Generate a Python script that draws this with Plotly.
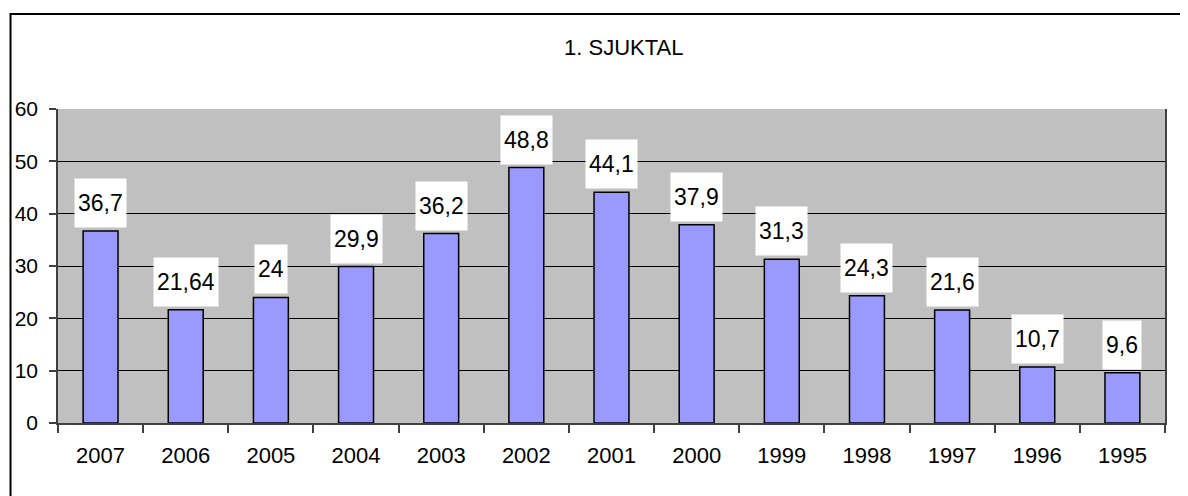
import plotly.graph_objects as go

years = ["2007", "2006", "2005", "2004", "2003", "2002", "2001", "2000",
         "1999", "1998", "1997", "1996", "1995"]
values = [36.7, 21.64, 24, 29.9, 36.2, 48.8, 44.1, 37.9, 31.3, 24.3, 21.6, 10.7, 9.6]
labels = ["36,7", "21,64", "24", "29,9", "36,2", "48,8", "44,1", "37,9",
          "31,3", "24,3", "21,6", "10,7", "9,6"]
title = "1. SJUKTAL"

FONT = "Liberation Sans, Arial, sans-serif"

fig = go.Figure()
fig.add_trace(go.Bar(
    x=years, y=values, width=0.41,
    marker=dict(color="#9999FF", line=dict(color="#000000", width=1.5)),
    hoverinfo="x+y",
))

for i, (v, lab) in enumerate(zip(values, labels)):
    fig.add_annotation(
        x=i, y=v, xref="x", yref="y", text=lab, showarrow=False,
        yanchor="bottom", yshift=3, bgcolor="#FFFFFF", borderpad=3, height=42,
        font=dict(family=FONT, size=23, color="#000000"),
    )

fig.add_annotation(
    x=0.511, y=1.197, xref="paper", yref="paper", text=title, showarrow=False,
    xanchor="center", yanchor="middle",
    font=dict(family=FONT, size=22, color="#000000"),
)

# outer chart frame (left and top edges visible)
fig.add_shape(type="rect", xref="paper", yref="paper",
              x0=-0.0429, x1=1.2, y0=-0.6, y1=1.3025,
              line=dict(color="#000000", width=2), layer="below")

fig.update_layout(
    width=1180, height=488,
    margin=dict(l=50, r=23, t=101, b=73, autoexpand=False),
    paper_bgcolor="#FFFFFF", plot_bgcolor="#C0C0C0",
    showlegend=False, bargap=0.59,
    font=dict(family=FONT, color="#000000"),
)
fig.update_xaxes(
    type="category", categoryorder="array", categoryarray=years,
    range=[-0.5, len(years) - 0.5], tickangle=0,
    tickson="boundaries", ticks="outside", ticklen=8,
    tickcolor="#404040", tickwidth=1.5, ticklabelstandoff=12,
    showline=True, linecolor="#404040", linewidth=1.5,
    showgrid=False, tickfont=dict(family=FONT, size=22, color="#000000"),
)
fig.update_yaxes(
    range=[0, 60], dtick=10, ticks="outside", ticklen=7,
    tickcolor="#404040", tickwidth=1.5, ticklabelstandoff=7,
    showline=True, linecolor="#404040", linewidth=1.5, mirror=True,
    showgrid=True, gridcolor="#000000", gridwidth=1,
    zeroline=False, tickfont=dict(family=FONT, size=21, color="#000000"),
)

fig.write_html("out.html")
